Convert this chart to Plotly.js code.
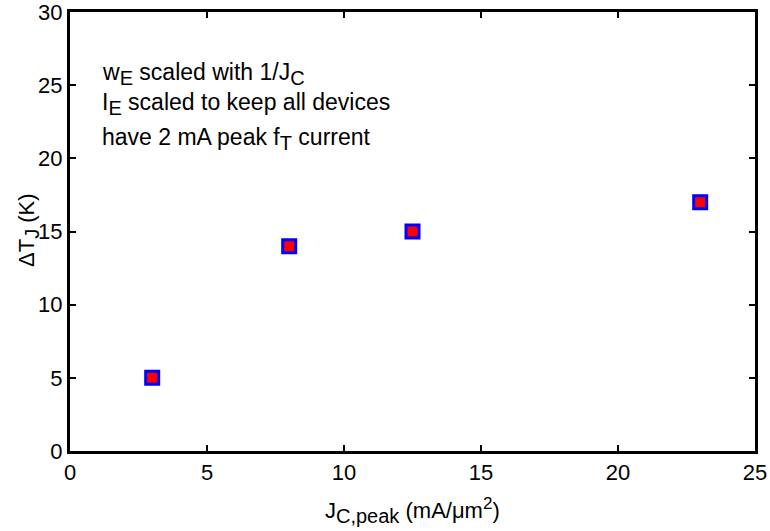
<!DOCTYPE html>
<html><head><meta charset="utf-8">
<script src="https://cdn.plot.ly/plotly-3.0.1.min.js"></script>
<style>body{margin:0;background:#fff}#c{width:770px;height:531px}</style>
</head><body><div id="c"></div>
<script>
const jcPeak = [3, 8, 12.5, 23];
const deltaTj = [5, 14, 15, 17];
const sb = (s, f) => "<sub><span style='font-size:" + f + "px'>" + s + "</span></sub>";
const sp = (s, f) => "<sup><span style='font-size:" + f + "px'>" + s + "</span></sup>";
const noteLines = [
  "w" + sb("E", 20) + " scaled with 1/J" + sb("C", 20),
  "I" + sb("E", 20) + " scaled to keep all devices",
  "have 2 mA peak f" + sb("T", 20) + " current"
];
const noteY = [74, 104, 139];
const xTitle = "J" + sb("C,peak", 20) + " (mA/μm" + sp("2", 17) + ")";
const yTitle = "ΔT" + sb("J", 20) + " (K)";
const F = "Liberation Sans, Arial, Helvetica, sans-serif";
const L = 70, T = 12, W = 685, H = 439;
const ax = {
  showline: true, linecolor: "#000", linewidth: 3, mirror: "ticks",
  ticks: "inside", ticklen: 6, tickwidth: 2, tickcolor: "#000",
  showgrid: false, zeroline: false, ticklabeloverflow: "allow",
  tickfont: {family: F, size: 22, color: "#000"}
};
const px = v => (v - L) / W, py = v => 1 - (v - T) / H;
const annotations = noteLines.map((t, i) => ({
  xref: "paper", yref: "paper", x: px(100), y: py(noteY[i]),
  xanchor: "left", yanchor: "middle", text: t, showarrow: false,
  font: {family: F, size: 23, color: "#000"}, align: "left"
}));
annotations.push({
  xref: "paper", yref: "paper", x: px(29), y: py(230),
  xanchor: "center", yanchor: "middle", textangle: -90,
  text: yTitle, showarrow: false,
  font: {family: F, size: 22, color: "#000"}
});
annotations.push({
  xref: "paper", yref: "paper", x: px(412), y: py(510),
  xanchor: "center", yanchor: "middle",
  text: xTitle, showarrow: false,
  font: {family: F, size: 22, color: "#000"}
});
Plotly.newPlot("c", [{
  x: jcPeak, y: deltaTj, type: "scatter", mode: "markers",
  marker: {symbol: "square", size: 13, color: "#ff0000", line: {color: "#0000ff", width: 3}}
}], {
  width: 770, height: 531,
  margin: {l: L, t: T, r: 770 - L - W, b: 531 - T - H},
  paper_bgcolor: "#fff", plot_bgcolor: "#fff", showlegend: false,
  xaxis: Object.assign({}, ax, {range: [0, 25], dtick: 5}),
  yaxis: Object.assign({}, ax, {range: [0, 30], dtick: 5}),
  annotations: annotations
}, {displayModeBar: false});
</script></body></html>
